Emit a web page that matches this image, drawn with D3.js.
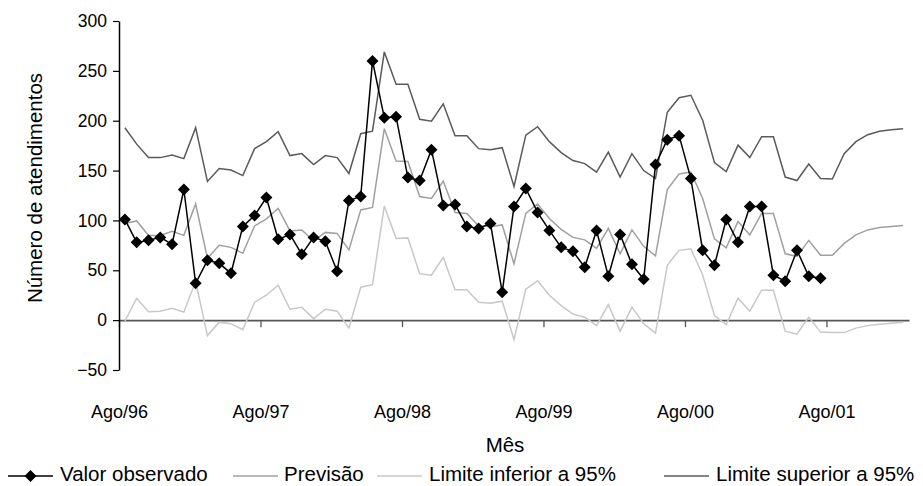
<!DOCTYPE html>
<html>
<head>
<meta charset="utf-8">
<script src="https://cdn.jsdelivr.net/npm/d3@7"></script>
<style>
  html, body { margin: 0; padding: 0; background: #fff; }
  svg { display: block; }
  text { font-family: "Liberation Sans", Arial, sans-serif; fill: #000; }
</style>
</head>
<body>
<svg id="chart" width="923" height="486"></svg>
<script>
// ---- Data ----
const categories = [
  "Ago/96","Set/96","Out/96","Nov/96","Dez/96","Jan/97","Fev/97","Mar/97","Abr/97","Mai/97","Jun/97","Jul/97",
  "Ago/97","Set/97","Out/97","Nov/97","Dez/97","Jan/98","Fev/98","Mar/98","Abr/98","Mai/98","Jun/98","Jul/98",
  "Ago/98","Set/98","Out/98","Nov/98","Dez/98","Jan/99","Fev/99","Mar/99","Abr/99","Mai/99","Jun/99","Jul/99",
  "Ago/99","Set/99","Out/99","Nov/99","Dez/99","Jan/00","Fev/00","Mar/00","Abr/00","Mai/00","Jun/00","Jul/00",
  "Ago/00","Set/00","Out/00","Nov/00","Dez/00","Jan/01","Fev/01","Mar/01","Abr/01","Mai/01","Jun/01","Jul/01",
  "Ago/01","Set/01","Out/01","Nov/01","Dez/01","Jan/02","Fev/02"
];
const tickLabels = ["Ago/96","Ago/97","Ago/98","Ago/99","Ago/00","Ago/01"];
const yTicks = [-50, 0, 50, 100, 150, 200, 250, 300];

const observed = [
  101,78,80,83,76,131,37,60,57,47,94,105,123,81,86,66,83,79,
  49,120,124,260,203,204,143,140,171,115,116,94,92,97,28,114,132,
  108,90,73,69,53,90,44,86,56,41,156,181,185,142,70,55,101,
  78,114,114,45,39,70,44,42
];
const forecast = [
  97,99.5,85,85,89,85,116.5,62,75,73,67,94.5,101.5,112,89.5,90.5,79.5,88,
  87,70.5,110.5,113,192,159.5,159,124,122,139.5,108,107,94.5,94,95.5,56.5,107,
  116.5,102,91,83,80.5,72,92,66.5,90.5,74,64.5,131,146.5,148.5,122,81.5,72.5,
  99,85.5,107,107,66.5,64,80,65,65,77,85.5,90.5,93,94,95
];
const upper = [
  193,176.5,163,163,165.5,162,193,139,152,150.5,145,172,179,189,165,167,156,165,
  163,147,187,189.5,269,236.5,236.5,201.5,199.5,217,185,185,172,171,173,134,185.5,
  194,179,168,160,157,148.5,168.5,143.5,167,150,142,208.5,223,225.5,200.5,158,149,
  175.5,163,184,184,143.5,140,156.5,142,141.5,167,179,186,189.5,191,192
];
const lower = [
  -1,22,8.5,9,12,8,39,-15.5,-2,-3.5,-9.5,18,25,35,11,13,1.5,11,
  9,-8,33,35.5,114.5,82,82.5,46.5,45,63,30.5,30.5,18,17,19,-19.5,31,
  39.5,25,14.5,6,3,-5.5,15.5,-11,13,-3.5,-13,55,70,71.5,45.5,4.5,-4.5,
  22,9,30,30,-11,-14,3,-12,-12.5,-12.5,-8,-5.5,-4,-3,-2
];

// ---- Layout ----
const svg = d3.select("#chart");
const plotLeft = 119, plotRight = 909, plotTop = 21, plotBottom = 370;
const n = categories.length;

const xb = d3.scaleLinear().domain([0, n]).range([plotLeft, plotRight]);
const x = i => xb(i + 0.5);
const y = d3.scaleLinear().domain([-50, 300]).range([plotBottom, plotTop]);

// x axis at zero
const xAxis = d3.axisBottom(xb)
  .tickValues([0, 12, 24, 36, 48, 60])
  .tickFormat((d, i) => tickLabels[i])
  .tickSizeInner(7).tickSizeOuter(0).tickPadding(78);
const gx = svg.append("g").attr("transform", `translate(0,${y(0)})`).call(xAxis);
gx.select(".domain").attr("stroke", "#555").attr("stroke-width", 1.6);
gx.selectAll(".tick line").attr("stroke", "#555").attr("stroke-width", 1.3);
gx.selectAll(".tick text").style("font-size", "18px").style("font-family", '"Liberation Sans", Arial, sans-serif');

// y axis
const yAxis = d3.axisLeft(y).tickValues(yTicks).tickSizeInner(6).tickSizeOuter(0).tickPadding(6)
  .tickFormat(d3.format("d"));
const gy = svg.append("g").attr("transform", `translate(${plotLeft},0)`).call(yAxis);
gy.select(".domain").attr("stroke", "#000").attr("stroke-width", 1.5);
gy.selectAll(".tick line").attr("stroke", "#000").attr("stroke-width", 1.2);
gy.selectAll(".tick text").style("font-size", "17.5px").style("font-family", '"Liberation Sans", Arial, sans-serif');

// series lines
const line = d3.line().x((d, i) => x(i)).y(d => y(d));
const series = [
  { data: lower, color: "#c8c8c8" },
  { data: forecast, color: "#a0a0a0" },
  { data: upper, color: "#5a5a5a" }
];
series.forEach(s => {
  svg.append("path").datum(s.data).attr("d", line)
    .attr("fill", "none").attr("stroke", s.color).attr("stroke-width", 1.5)
    .attr("stroke-linejoin", "miter");
});
svg.append("path").datum(observed).attr("d", line)
  .attr("fill", "none").attr("stroke", "#000").attr("stroke-width", 1.5);

const diamondPath = "M0,-6L6,0L0,6L-6,0Z";
svg.append("g").selectAll("path").data(observed).join("path")
  .attr("d", diamondPath)
  .attr("transform", (d, i) => `translate(${x(i)},${y(d)})`)
  .attr("fill", "#000");

// axis titles
svg.append("text").attr("x", 505).attr("y", 452).attr("text-anchor", "middle")
  .style("font-size", "20.5px").text("Mês");
svg.append("text").attr("transform", "translate(42,188) rotate(-90)").attr("text-anchor", "middle")
  .style("font-size", "20.5px").text("Número de atendimentos");

// legend
const legendItems = [
  { label: "Valor observado", color: "#000", x1: 8, x2: 53, tx: 60, marker: true },
  { label: "Previsão", color: "#a0a0a0", x1: 233, x2: 278, tx: 284 },
  { label: "Limite inferior a 95%", color: "#c8c8c8", x1: 377, x2: 422, tx: 429 },
  { label: "Limite superior a 95%", color: "#5a5a5a", x1: 664, x2: 709, tx: 716 }
];
const ly = 476;
legendItems.forEach(it => {
  svg.append("line").attr("x1", it.x1).attr("x2", it.x2).attr("y1", ly).attr("y2", ly)
    .attr("stroke", it.color).attr("stroke-width", 1.5);
  if (it.marker) {
    svg.append("path").attr("d", diamondPath)
      .attr("transform", `translate(${(it.x1 + it.x2) / 2},${ly})`).attr("fill", "#000");
  }
  svg.append("text").attr("x", it.tx).attr("y", 480.5).style("font-size", "20.5px").text(it.label);
});
</script>
</body>
</html>
